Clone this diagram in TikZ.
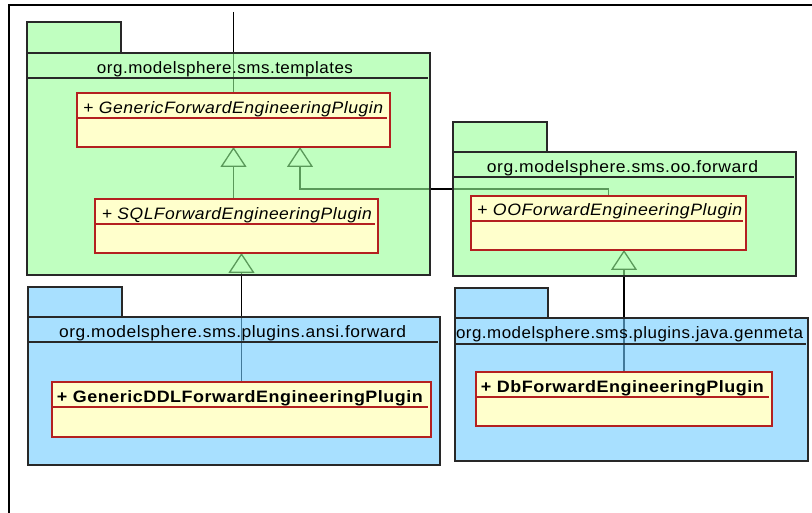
\documentclass[tikz,border=0pt]{standalone}
\usepackage{fontspec}
\setmainfont{Liberation Sans}
\newfontfamily\umlfont[LetterSpace=3]{Liberation Sans}
\usetikzlibrary{arrows.meta,calc}

\definecolor{pkggreen}{RGB}{150,255,150}
\definecolor{pkgblue}{RGB}{110,203,255}
\definecolor{clsfill}{RGB}{255,255,204}
\definecolor{clsline}{RGB}{180,32,32}
\definecolor{pkgline}{RGB}{40,40,40}

% stretch a label horizontally to a given width
\newcommand{\fitw}[2]{\resizebox{#1}{\height}{#2}}

\pgfdeclarelayer{wires}
\pgfsetlayers{wires,main}

\begin{document}
\begin{tikzpicture}[x=1pt,y=-1pt,
  pkgpart/.style={draw=pkgline, line width=1.4pt, fill=#1, fill opacity=0.6,
    inner sep=0pt, outer sep=0pt, anchor=north west},
  pkgrule/.style={draw=pkgline, line width=1.2pt},
  pkgtitle/.style={anchor=base, inner sep=0pt, font=\umlfont\fontsize{16.5}{19}\selectfont},
  clsbox/.style={draw=clsline, line width=1.4pt, fill=clsfill,
    inner sep=0pt, outer sep=0pt, anchor=north west},
  clsrule/.style={draw=clsline, line width=1.2pt},
  clsname/.style={anchor=base west, inner sep=0pt, font=\umlfont\fontsize{16.5}{19}\selectfont},
  wire/.style={draw=black, line width=1.4pt},
  gen/.style={wire, -{Triangle[open, length=20pt, width=26pt, line width=1.3pt]}},
  frame/.style={draw=black, line width=1.6pt}
]
\useasboundingbox (0,0) rectangle (812,513);

% outer frame
\coordinate (frameA) at (9,513);
\coordinate (frameB) at (9,5);
\coordinate (frameC) at (812,5);
\draw[frame] (frameA) -- (frameB) -- (frameC);

% ---------- packages ----------
\node[pkgpart=pkggreen, minimum width=94, minimum height=31] (tpl-tab) at (27,22) {};
\node[pkgpart=pkggreen, minimum width=403, minimum height=222] (tpl) at (27,53) {};
\draw[pkgrule] ($(tpl.north west)+(0,25)$) -- ($(tpl.north east)+(-2,25)$);
\node[pkgtitle] (tpl-title) at ($(tpl.north)+(-3.5,20.5)$)
  {\fitw{256pt}{org.modelsphere.sms.templates}};

\node[pkgpart=pkggreen, minimum width=94, minimum height=30] (oofw-tab) at (453,122) {};
\node[pkgpart=pkggreen, minimum width=343, minimum height=124] (oofw) at (453,152) {};
\draw[pkgrule] ($(oofw.north west)+(0,25)$) -- ($(oofw.north east)+(-2,25)$);
\node[pkgtitle] (oofw-title) at ($(oofw.north)+(-2,21)$)
  {\fitw{271pt}{org.modelsphere.sms.oo.forward}};

\node[pkgpart=pkgblue, minimum width=94, minimum height=30] (ansi-tab) at (28,287) {};
\node[pkgpart=pkgblue, minimum width=412, minimum height=148] (ansi) at (28,317) {};
\draw[pkgrule] ($(ansi.north west)+(0,25)$) -- ($(ansi.north east)+(-2,25)$);
\node[pkgtitle] (ansi-title) at ($(ansi.north)+(-1.3,20.5)$)
  {\fitw{347pt}{org.modelsphere.sms.plugins.ansi.forward}};

\node[pkgpart=pkgblue, minimum width=93, minimum height=30] (gen-tab) at (455,288) {};
\node[pkgpart=pkgblue, minimum width=353, minimum height=143] (genmeta) at (455,318) {};
\draw[pkgrule] ($(genmeta.north west)+(0,26)$) -- ($(genmeta.north east)+(-2,26)$);
\node[pkgtitle] (gen-title) at ($(genmeta.north)+(-2,21)$)
  {\fitw{347pt}{org.modelsphere.sms.plugins.java.genmeta}};

% ---------- classes ----------
\node[clsbox, minimum width=313, minimum height=54] (gfe) at (77,93) {};
\draw[clsrule] ($(gfe.north west)+(0,25)$) -- ($(gfe.north east)+(-3,25)$);
\node[clsname] (gfe-name) at ($(gfe.north west)+(6,20.3)$)
  {\fitw{300pt}{\itshape + GenericForwardEngineeringPlugin}};

\node[clsbox, minimum width=283, minimum height=54] (sql) at (95,199) {};
\draw[clsrule] ($(sql.north west)+(0,25)$) -- ($(sql.north east)+(-3,25)$);
\node[clsname] (sql-name) at ($(sql.north west)+(6.7,20.5)$)
  {\fitw{270pt}{\itshape + SQLForwardEngineeringPlugin}};

\node[clsbox, minimum width=275, minimum height=54] (oo) at (471,196) {};
\draw[clsrule] ($(oo.north west)+(0,25)$) -- ($(oo.north east)+(-3,25)$);
\node[clsname] (oo-name) at ($(oo.north west)+(6,20)$)
  {\fitw{265pt}{\itshape + OOForwardEngineeringPlugin}};

\node[clsbox, minimum width=379, minimum height=55] (ddl) at (52,382) {};
\draw[clsrule] ($(ddl.north west)+(0,25)$) -- ($(ddl.north east)+(-3,25)$);
\node[clsname] (ddl-name) at ($(ddl.north west)+(4.7,20.3)$)
  {\fitw{366pt}{\bfseries + GenericDDLForwardEngineeringPlugin}};

\node[clsbox, minimum width=296, minimum height=54] (db) at (476,372) {};
\draw[clsrule] ($(db.north west)+(0,25)$) -- ($(db.north east)+(-3,25)$);
\node[clsname] (db-name) at ($(db.north west)+(4.7,20.3)$)
  {\fitw{283pt}{\bfseries + DbForwardEngineeringPlugin}};

% ---------- connectors (beneath the translucent packages) ----------
\begin{pgfonlayer}{wires}
  \coordinate (upper) at (233.5,12);
  \draw[wire] (upper) -- (gfe.north);
  \draw[gen] (sql.north -| gfe.south) -- (gfe.south);
  \draw[gen] (oo.north) -- ++(0,-7) -| ($(gfe.south west)+(223,0)$);
  \draw[gen] (ddl.north) -- (ddl.north |- sql.south);
  \draw[gen] (db.north) -- (db.north |- oo.south);
\end{pgfonlayer}
\end{tikzpicture}
\end{document}
